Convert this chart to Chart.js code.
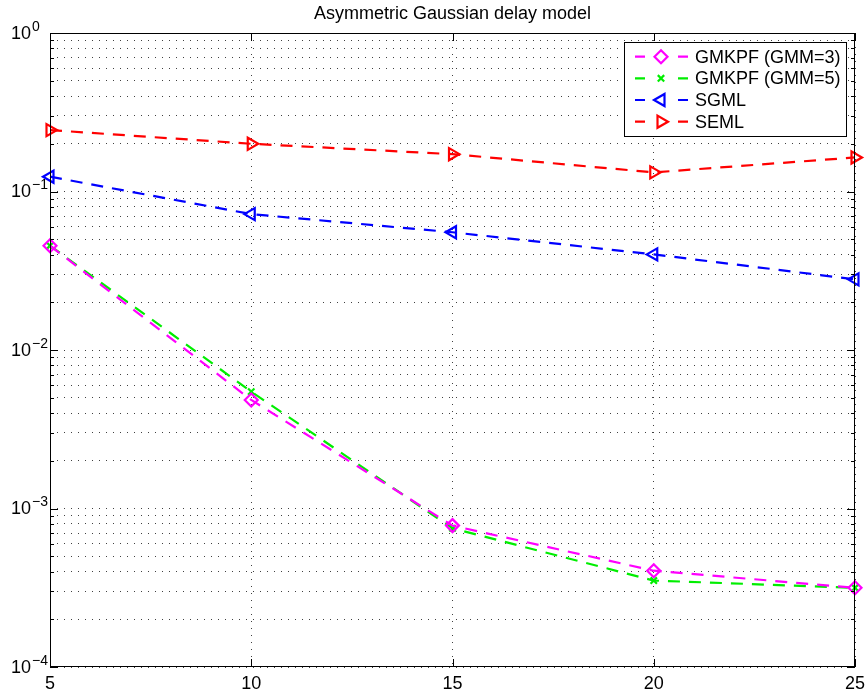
<!DOCTYPE html>
<html>
<head>
<meta charset="utf-8">
<script src="https://cdn.jsdelivr.net/npm/chart.js@4/dist/chart.umd.min.js"></script>
<style>
  html, body { margin: 0; padding: 0; background: #fff; }
  #wrap { width: 865px; height: 694px; }
</style>
</head>
<body>
<div id="wrap"><canvas id="c" width="865" height="694"></canvas></div>
<script>
// ---- data ----
const titleText = 'Asymmetric Gaussian delay model';
const xValues = [5, 10, 15, 20, 25];
const xTicks = [5, 10, 15, 20, 25];
const gmkpf3 = [0.0455, 0.00484, 0.00078, 0.000405, 0.000316];
const gmkpf5 = [0.0455, 0.00546, 0.00075, 0.000351, 0.000316];
const sgml = [0.124, 0.072, 0.0553, 0.0401, 0.0279];
const seml = [0.244, 0.200, 0.172, 0.132, 0.164];
const seriesNames = ['GMKPF (GMM=3)', 'GMKPF (GMM=5)', 'SGML', 'SEML'];
const yDecadeExponents = [0, -1, -2, -3, -4];

const FONT = '"Liberation Sans", Arial, Helvetica, sans-serif';

// log tick values (1..9 x 10^e)
const yTickValues = [];
for (let e = -4; e <= -1; e++) {
  for (let m = 1; m <= 9; m++) yTickValues.push(Number((m * Math.pow(10, e)).toPrecision(3)));
}
yTickValues.push(1);

function pts(arr) { return xValues.map((x, i) => ({ x: x, y: arr[i] })); }

const styles = [
  { color: '#ff00ff', pointStyle: 'rectRot', radius: 6.5, rotation: 0 },
  { color: '#00ee00', pointStyle: 'crossRot', radius: 4.5, rotation: 0 },
  { color: '#0000ff', pointStyle: 'triangle', radius: 7, rotation: -90 },
  { color: '#ff0000', pointStyle: 'triangle', radius: 7, rotation: 90 }
];
const seriesData = [gmkpf3, gmkpf5, sgml, seml];

const datasets = seriesData.map((arr, i) => ({
  label: seriesNames[i],
  data: pts(arr),
  borderColor: styles[i].color,
  backgroundColor: 'rgba(0,0,0,0)',
  borderWidth: 2.2,
  borderDash: [12, 9],
  pointStyle: styles[i].pointStyle,
  pointRadius: styles[i].radius,
  pointRotation: styles[i].rotation,
  pointBorderWidth: 2.2,
  pointBorderColor: styles[i].color,
  pointBackgroundColor: 'rgba(0,0,0,0)',
  tension: 0,
  clip: false
}));

const decorPlugin = {
  id: 'decor',
  afterDraw(chart) {
    const ctx = chart.ctx;
    const a = chart.chartArea;
    const xs = chart.scales.x, ys = chart.scales.y;
    ctx.save();
    // box
    ctx.strokeStyle = '#000';
    ctx.lineWidth = 1;
    ctx.setLineDash([]);
    ctx.strokeRect(Math.round(a.left) + 0.5, Math.round(a.top) + 0.5,
                   Math.round(a.right - a.left) - 1, Math.round(a.bottom - a.top) - 1);
    // ticks inside
    ctx.beginPath();
    yTickValues.forEach(v => {
      const y = Math.round(ys.getPixelForValue(v)) + 0.5;
      const major = Math.abs(Math.log10(v) - Math.round(Math.log10(v))) < 1e-9;
      const len = major ? 8 : 4;
      ctx.moveTo(a.left, y); ctx.lineTo(a.left + len, y);
      ctx.moveTo(a.right, y); ctx.lineTo(a.right - len, y);
    });
    xTicks.forEach(v => {
      const x = Math.round(xs.getPixelForValue(v)) + 0.5;
      ctx.moveTo(x, a.bottom); ctx.lineTo(x, a.bottom - 8);
      ctx.moveTo(x, a.top); ctx.lineTo(x, a.top + 8);
    });
    ctx.stroke();
    // y labels 10^e
    ctx.fillStyle = '#000';
    yDecadeExponents.forEach(e => {
      const y = ys.getPixelForValue(Math.pow(10, e));
      ctx.font = '18px ' + FONT;
      ctx.textAlign = 'left';
      ctx.textBaseline = 'middle';
      ctx.fillText('10', 11, y + 1);
      const w = ctx.measureText('10').width;
      ctx.font = '14px ' + FONT;
      ctx.textBaseline = 'alphabetic';
      const expTxt = e === 0 ? '0' : '\u2212' + Math.abs(e);
      ctx.fillText(expTxt, 11 + w + 1, y - 2.5);
    });
    // title
    ctx.font = '18px ' + FONT;
    ctx.textAlign = 'center';
    ctx.textBaseline = 'alphabetic';
    ctx.fillText(titleText, (a.left + a.right) / 2, 19);
    // legend
    const lx = 624, ly = 42, lw = 222, lh = 94;
    ctx.fillStyle = '#fff';
    ctx.fillRect(lx, ly, lw, lh);
    ctx.strokeStyle = '#000';
    ctx.lineWidth = 1;
    ctx.strokeRect(lx + 0.5, ly + 0.5, lw, lh);
    const rowY = [56.7, 78.3, 100, 121.7];
    chart.data.datasets.forEach((ds, i) => {
      const y = rowY[i];
      ctx.strokeStyle = ds.borderColor;
      ctx.lineWidth = 2.2;
      ctx.setLineDash([]);
      ctx.beginPath();
      ctx.moveTo(635, y); ctx.lineTo(645, y);
      ctx.moveTo(678, y); ctx.lineTo(688, y);
      ctx.stroke();
      ctx.fillStyle = 'rgba(0,0,0,0)';
      Chart.helpers.drawPoint(ctx, {
        pointStyle: ds.pointStyle, radius: ds.pointRadius,
        rotation: ds.pointRotation, borderWidth: 2.2
      }, 661, y);
      ctx.fillStyle = '#000';
      ctx.font = '18px ' + FONT;
      ctx.textAlign = 'left';
      ctx.textBaseline = 'middle';
      ctx.fillText(ds.label, 695, y + 1);
    });
    ctx.restore();
  }
};

new Chart(document.getElementById('c'), {
  type: 'line',
  data: { datasets: datasets },
  options: {
    responsive: false,
    devicePixelRatio: 1,
    animation: false,
    layout: { padding: { top: 33, right: 10, left: 0, bottom: 0 } },
    plugins: { legend: { display: false }, title: { display: false }, tooltip: { enabled: false } },
    scales: {
      x: {
        type: 'linear', min: 5, max: 25,
        afterBuildTicks(s) { s.ticks = xTicks.map(v => ({ value: v })); },
        afterFit(s) { s.height = 27; s.paddingLeft = 0; s.paddingRight = 0; },
        ticks: { color: '#000', font: { family: FONT, size: 18 }, padding: 6, maxRotation: 0, autoSkip: false },
        grid: { color: 'rgba(0,0,0,0.75)', lineWidth: 1, drawTicks: false },
        border: { display: false, dash: [1, 6] }
      },
      y: {
        type: 'logarithmic', min: 1e-4, max: 1,
        afterBuildTicks(s) { s.ticks = yTickValues.map(v => ({ value: v })); },
        afterFit(s) { s.width = 50; s.paddingTop = 0; s.paddingBottom = 0; },
        ticks: { display: false },
        grid: { color: 'rgba(0,0,0,0.75)', lineWidth: 1, drawTicks: false },
        border: { display: false, dash: [1, 6] }
      }
    }
  },
  plugins: [decorPlugin]
});
</script>
</body>
</html>
